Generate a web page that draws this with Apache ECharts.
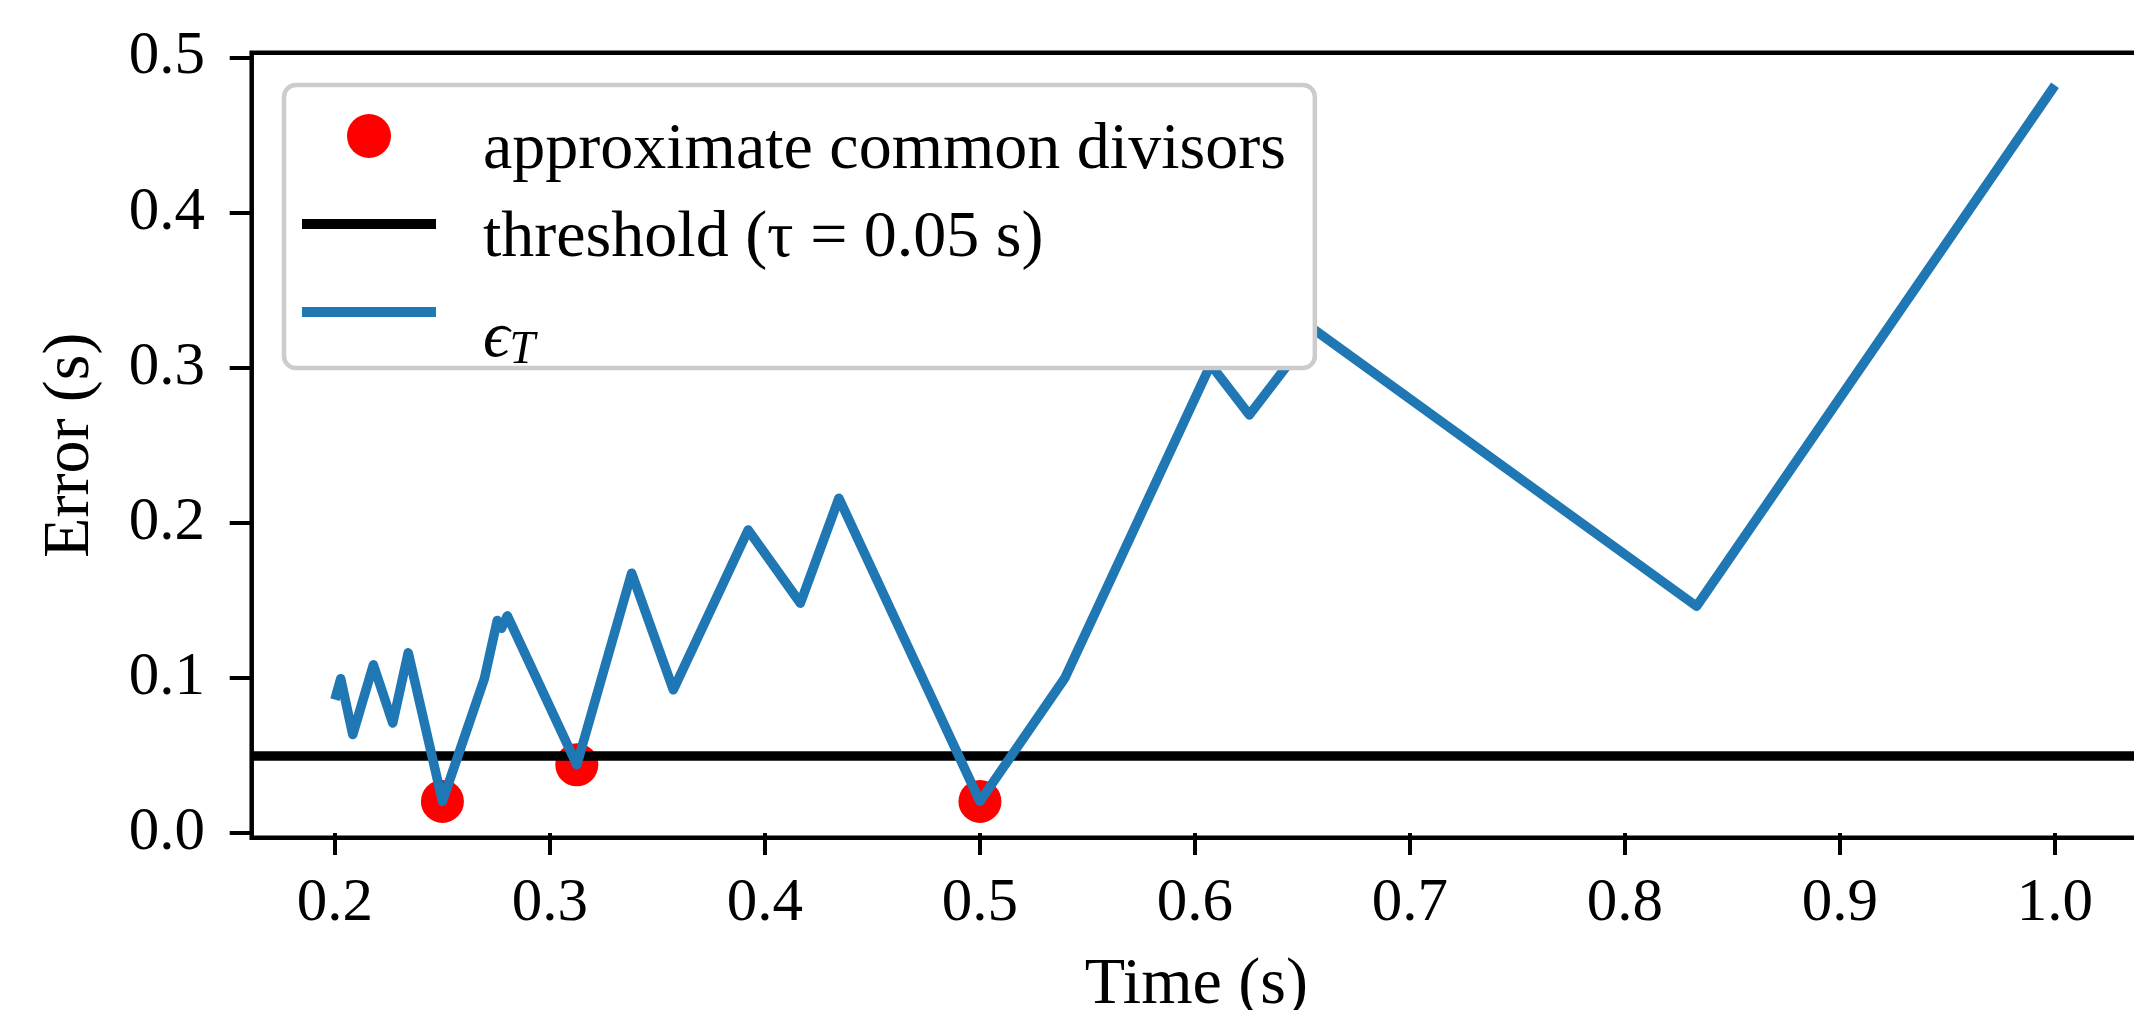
<!DOCTYPE html>
<html>
<head>
<meta charset="utf-8">
<script src="https://cdn.jsdelivr.net/npm/echarts@6/dist/echarts.min.js"></script>
<style>
html,body{margin:0;padding:0;background:#fff;}
#chart{width:2134px;height:1010px;}
</style>
</head>
<body>
<div id="chart"></div>
<script>
// ---- data ----
const epsTime  = [0.2, 0.2027, 0.2083, 0.2179, 0.2269, 0.2341, 0.25, 0.2695, 0.2755, 0.2775, 0.2802, 0.3125, 0.338, 0.3574, 0.3922, 0.4165, 0.4344, 0.5, 0.5395, 0.6073, 0.6253, 0.6556, 0.8333, 1.0];
const epsError = [0.086, 0.0995, 0.0635, 0.1084, 0.0709, 0.1162, 0.0204, 0.0995, 0.137, 0.132, 0.140, 0.044, 0.1675, 0.0923, 0.1954, 0.1482, 0.2158, 0.0204, 0.0999, 0.302, 0.2695, 0.3244, 0.1462, 0.482];
const divisorTime  = [0.25, 0.3125, 0.5];
const divisorError = [0.0204, 0.044, 0.0204];
const THRESHOLD = 0.05;
const xTicks = [0.2, 0.3, 0.4, 0.5, 0.6, 0.7, 0.8, 0.9, 1.0];
const yTicks = [0.0, 0.1, 0.2, 0.3, 0.4, 0.5];

const NAME_DIV = 'approximate common divisors';
const NAME_THR = 'threshold (τ = 0.05 s)';
const NAME_EPS = 'ϵT';

const FONT = '"Liberation Serif", "DejaVu Serif", serif';
const LINE_ICON = 'path://M0,0H134V10H0Z';

const chart = echarts.init(document.getElementById('chart'));
const option = {
  animation: false,
  backgroundColor: '#fff',
  textStyle: {fontFamily: FONT, color: '#000'},
  grid: {
    left: 251.7, top: 52.7, right: -7, bottom: 172.3,
    show: true, borderColor: '#000', borderWidth: 4.5,
    containLabel: false, outerBoundsMode: 'none'
  },
  xAxis: {
    type: 'value', min: 0.1613, max: 1.04,
    name: 'Time (s)', nameLocation: 'middle', nameGap: 115,
    nameTextStyle: {fontSize: 66, lineHeight: 66, color: '#000', fontFamily: FONT},
    axisLine: {show: false},
    axisTick: {show: true, length: 22, lineStyle: {color: '#000', width: 4}, customValues: xTicks},
    axisLabel: {customValues: xTicks, formatter: v => v.toFixed(1), fontSize: 61, lineHeight: 61, color: '#000', margin: 36, fontFamily: FONT},
    splitLine: {show: false}
  },
  yAxis: {
    type: 'value', min: -0.003, max: 0.503,
    name: 'Error (s)', nameLocation: 'middle', nameRotate: 90, nameGap: 148,
    nameTextStyle: {fontSize: 66, lineHeight: 66, color: '#000', fontFamily: FONT},
    axisLine: {show: false},
    axisTick: {show: true, length: 22, lineStyle: {color: '#000', width: 4}, customValues: yTicks},
    axisLabel: {customValues: yTicks, formatter: v => v.toFixed(1), fontSize: 61, color: '#000', margin: 46.7, fontFamily: FONT},
    splitLine: {show: false}
  },
  legend: {
    orient: 'vertical', left: 284, top: 85, z: 10,
    selectedMode: false,
    itemWidth: 134, itemHeight: 44, itemGap: -5,
    padding: [6, 29, -6, 18],
    backgroundColor: '#fff', borderColor: '#cccccc', borderWidth: 4.5, borderRadius: 12,
    textStyle: {
      fontFamily: FONT, fontSize: 66, lineHeight: 60, color: '#000', padding: [30, 0, 0, 42],
      rich: {
        eps: {fontFamily: FONT, fontSize: 66, lineHeight: 36, fontStyle: 'italic', color: '#000'},
        sub: {fontFamily: FONT, fontSize: 46, lineHeight: 20, fontStyle: 'italic', padding: [24, 0, 0, 0], color: '#000'}
      }
    },
    formatter: name => name === NAME_EPS ? '{eps|ϵ}{sub|T}' : name,
    data: [
      {name: NAME_DIV, icon: 'circle', itemStyle: {color: '#ff0000'}},
      {name: NAME_THR, icon: LINE_ICON, itemStyle: {color: '#000000'}},
      {name: NAME_EPS, icon: LINE_ICON, itemStyle: {color: '#1f77b4'}, textStyle: {lineHeight: 36, padding: [54, 0, 0, 42]}}
    ]
  },
  series: [
    {
      name: NAME_DIV, type: 'scatter', z: 2,
      symbol: 'circle', symbolSize: 43,
      itemStyle: {color: '#ff0000', opacity: 1},
      data: divisorTime.map((t, i) => [t, divisorError[i]]),
      silent: true
    },
    {
      name: NAME_THR, type: 'line', z: 3,
      data: [],
      itemStyle: {color: '#000'}, lineStyle: {color: '#000', width: 9.5},
      markLine: {
        silent: true, z: 3, symbol: ['none', 'none'], label: {show: false},
        lineStyle: {color: '#000', width: 9.5, type: 'solid'},
        emphasis: {disabled: true},
        data: [{yAxis: THRESHOLD}]
      }
    },
    {
      name: NAME_EPS, type: 'line', z: 4,
      showSymbol: false, symbol: 'none',
      itemStyle: {color: '#1f77b4'},
      lineStyle: {color: '#1f77b4', width: 9.5, join: 'round', cap: 'butt'},
      data: epsTime.map((t, i) => [t, epsError[i]]),
      silent: true
    }
  ]
};
chart.setOption(option);
</script>
</body>
</html>
